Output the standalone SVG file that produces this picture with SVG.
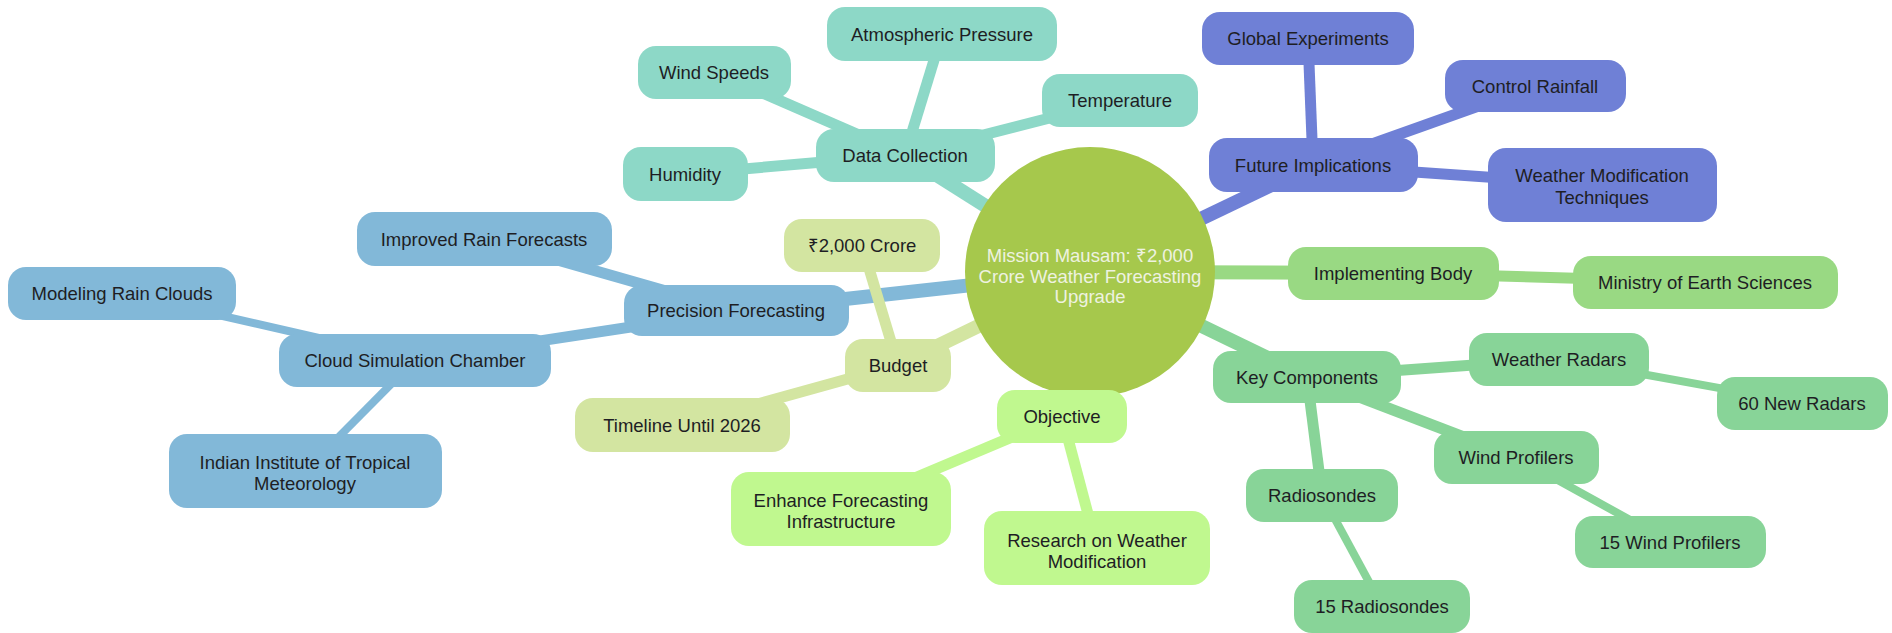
<svg xmlns="http://www.w3.org/2000/svg" width="1892" height="633" viewBox="0 0 1892 633">
<style>
text{font-family:"Liberation Sans",Arial,sans-serif;font-size:18.5px;fill:#1e1e24;text-anchor:middle}
.e{fill:none;stroke-linecap:butt}
.d1{stroke-width:14}.d2{stroke-width:11}.d3{stroke-width:8}
.teal{fill:#8dd8c7}.teal-s{stroke:#8dd8c7}
.pur{fill:#6f80d6}.pur-s{stroke:#6f80d6}
.imp{fill:#99d983}.imp-s{stroke:#99d983}
.key{fill:#88d498}.key-s{stroke:#88d498}
.obj{fill:#c0f88f}.obj-s{stroke:#c0f88f}
.bud{fill:#d3e5a1}.bud-s{stroke:#d3e5a1}
.pre{fill:#82b8d8}.pre-s{stroke:#82b8d8}
.root text{fill:#eef2e0}
</style>
<rect width="1892" height="633" fill="#ffffff"/>
<g id="connectors">
  <!-- root edges -->
  <line class="e d1 pre-s" x1="1090" y1="272" x2="736" y2="311"/>
  <line class="e d1 bud-s" x1="1090" y1="272" x2="898" y2="365"/>
  <line class="e d1 teal-s" x1="1090" y1="272" x2="905" y2="155"/>
  <line class="e d1 pur-s" x1="1090" y1="272" x2="1313" y2="165"/>
  <line class="e d1 imp-s" x1="1090" y1="272" x2="1393" y2="273"/>
  <line class="e d1 key-s" x1="1090" y1="272" x2="1307" y2="377"/>
  <line class="e d1 obj-s" x1="1090" y1="272" x2="1062" y2="416"/>
  <!-- data collection -->
  <line class="e d2 teal-s" x1="905" y1="155" x2="942" y2="34"/>
  <line class="e d2 teal-s" x1="905" y1="155" x2="714" y2="72"/>
  <line class="e d2 teal-s" x1="905" y1="155" x2="1120" y2="100"/>
  <line class="e d2 teal-s" x1="905" y1="155" x2="685" y2="174"/>
  <!-- future implications -->
  <line class="e d2 pur-s" x1="1313" y1="165" x2="1308" y2="38"/>
  <line class="e d2 pur-s" x1="1313" y1="165" x2="1535" y2="86"/>
  <line class="e d2 pur-s" x1="1313" y1="165" x2="1602" y2="185"/>
  <!-- implementing body -->
  <line class="e d2 imp-s" x1="1393" y1="273" x2="1705" y2="282"/>
  <!-- key components -->
  <line class="e d2 key-s" x1="1307" y1="377" x2="1559" y2="359"/>
  <line class="e d2 key-s" x1="1307" y1="377" x2="1516" y2="457"/>
  <line class="e d2 key-s" x1="1307" y1="377" x2="1322" y2="495"/>
  <line class="e d3 key-s" x1="1559" y1="359" x2="1802" y2="403"/>
  <line class="e d3 key-s" x1="1516" y1="457" x2="1670" y2="542"/>
  <line class="e d3 key-s" x1="1322" y1="495" x2="1382" y2="606"/>
  <!-- objective -->
  <line class="e d2 obj-s" x1="1062" y1="416" x2="841" y2="509"/>
  <line class="e d2 obj-s" x1="1062" y1="416" x2="1097" y2="548"/>
  <!-- budget -->
  <line class="e d2 bud-s" x1="898" y1="365" x2="862" y2="245"/>
  <line class="e d2 bud-s" x1="898" y1="365" x2="682" y2="425"/>
  <!-- precision forecasting -->
  <line class="e d2 pre-s" x1="736" y1="311" x2="484" y2="239"/>
  <line class="e d2 pre-s" x1="736" y1="311" x2="415" y2="360"/>
  <line class="e d3 pre-s" x1="415" y1="360" x2="122" y2="293"/>
  <line class="e d3 pre-s" x1="415" y1="360" x2="305" y2="471"/>
</g>
<g id="root" class="root">
  <circle cx="1090" cy="272" r="125" fill="#a6c84c"/>
  <text x="1090" y="262">Mission Mausam: ₹2,000</text>
  <text x="1090" y="283">Crore Weather Forecasting</text>
  <text x="1090" y="303">Upgrade</text>
</g>
<g id="data-collection"><rect class="teal" x="816" y="129" width="179" height="53" rx="18"/><text x="905" y="162">Data Collection</text></g>
<g id="atmospheric-pressure"><rect class="teal" x="827" y="7" width="230" height="54" rx="18"/><text x="942" y="41">Atmospheric Pressure</text></g>
<g id="wind-speeds"><rect class="teal" x="638" y="46" width="153" height="53" rx="18"/><text x="714" y="79">Wind Speeds</text></g>
<g id="temperature"><rect class="teal" x="1042" y="74" width="156" height="53" rx="18"/><text x="1120" y="107">Temperature</text></g>
<g id="humidity"><rect class="teal" x="623" y="147" width="125" height="54" rx="18"/><text x="685" y="181">Humidity</text></g>

<g id="future-implications"><rect class="pur" x="1209" y="138" width="209" height="54" rx="18"/><text x="1313" y="172">Future Implications</text></g>
<g id="global-experiments"><rect class="pur" x="1202" y="12" width="212" height="53" rx="18"/><text x="1308" y="45">Global Experiments</text></g>
<g id="control-rainfall"><rect class="pur" x="1445" y="60" width="181" height="52" rx="18"/><text x="1535" y="93">Control Rainfall</text></g>
<g id="weather-modification-techniques"><rect class="pur" x="1488" y="148" width="229" height="74" rx="18"/><text x="1602" y="182">Weather Modification</text><text x="1602" y="204">Techniques</text></g>

<g id="implementing-body"><rect class="imp" x="1288" y="247" width="211" height="53" rx="18"/><text x="1393" y="280">Implementing Body</text></g>
<g id="ministry"><rect class="imp" x="1573" y="256" width="265" height="53" rx="18"/><text x="1705" y="289">Ministry of Earth Sciences</text></g>

<g id="key-components"><rect class="key" x="1213" y="351" width="188" height="52" rx="18"/><text x="1307" y="384">Key Components</text></g>
<g id="weather-radars"><rect class="key" x="1469" y="333" width="180" height="53" rx="18"/><text x="1559" y="366">Weather Radars</text></g>
<g id="new-radars"><rect class="key" x="1717" y="377" width="171" height="53" rx="18"/><text x="1802" y="410">60 New Radars</text></g>
<g id="wind-profilers"><rect class="key" x="1434" y="431" width="165" height="53" rx="18"/><text x="1516" y="464">Wind Profilers</text></g>
<g id="radiosondes"><rect class="key" x="1246" y="469" width="152" height="53" rx="18"/><text x="1322" y="502">Radiosondes</text></g>
<g id="wind-profilers-15"><rect class="key" x="1575" y="516" width="191" height="52" rx="18"/><text x="1670" y="549">15 Wind Profilers</text></g>
<g id="radiosondes-15"><rect class="key" x="1294" y="580" width="176" height="53" rx="18"/><text x="1382" y="613">15 Radiosondes</text></g>

<g id="objective"><rect class="obj" x="997" y="390" width="130" height="53" rx="18"/><text x="1062" y="423">Objective</text></g>
<g id="enhance"><rect class="obj" x="731" y="472" width="220" height="74" rx="18"/><text x="841" y="507">Enhance Forecasting</text><text x="841" y="528">Infrastructure</text></g>
<g id="research"><rect class="obj" x="984" y="511" width="226" height="74" rx="18"/><text x="1097" y="547">Research on Weather</text><text x="1097" y="568">Modification</text></g>

<g id="budget"><rect class="bud" x="845" y="339" width="106" height="53" rx="18"/><text x="898" y="372">Budget</text></g>
<g id="crore"><rect class="bud" x="784" y="219" width="156" height="53" rx="18"/><text x="862" y="252">₹2,000 Crore</text></g>
<g id="timeline"><rect class="bud" x="575" y="398" width="215" height="54" rx="18"/><text x="682" y="432">Timeline Until 2026</text></g>

<g id="precision-forecasting"><rect class="pre" x="624" y="285" width="225" height="51" rx="18"/><text x="736" y="317">Precision Forecasting</text></g>
<g id="improved-rain"><rect class="pre" x="357" y="212" width="255" height="54" rx="18"/><text x="484" y="246">Improved Rain Forecasts</text></g>
<g id="modeling-rain"><rect class="pre" x="8" y="267" width="228" height="53" rx="18"/><text x="122" y="300">Modeling Rain Clouds</text></g>
<g id="cloud-sim"><rect class="pre" x="279" y="334" width="272" height="53" rx="18"/><text x="415" y="367">Cloud Simulation Chamber</text></g>
<g id="iitm"><rect class="pre" x="169" y="434" width="273" height="74" rx="18"/><text x="305" y="469">Indian Institute of Tropical</text><text x="305" y="490">Meteorology</text></g>
</svg>
